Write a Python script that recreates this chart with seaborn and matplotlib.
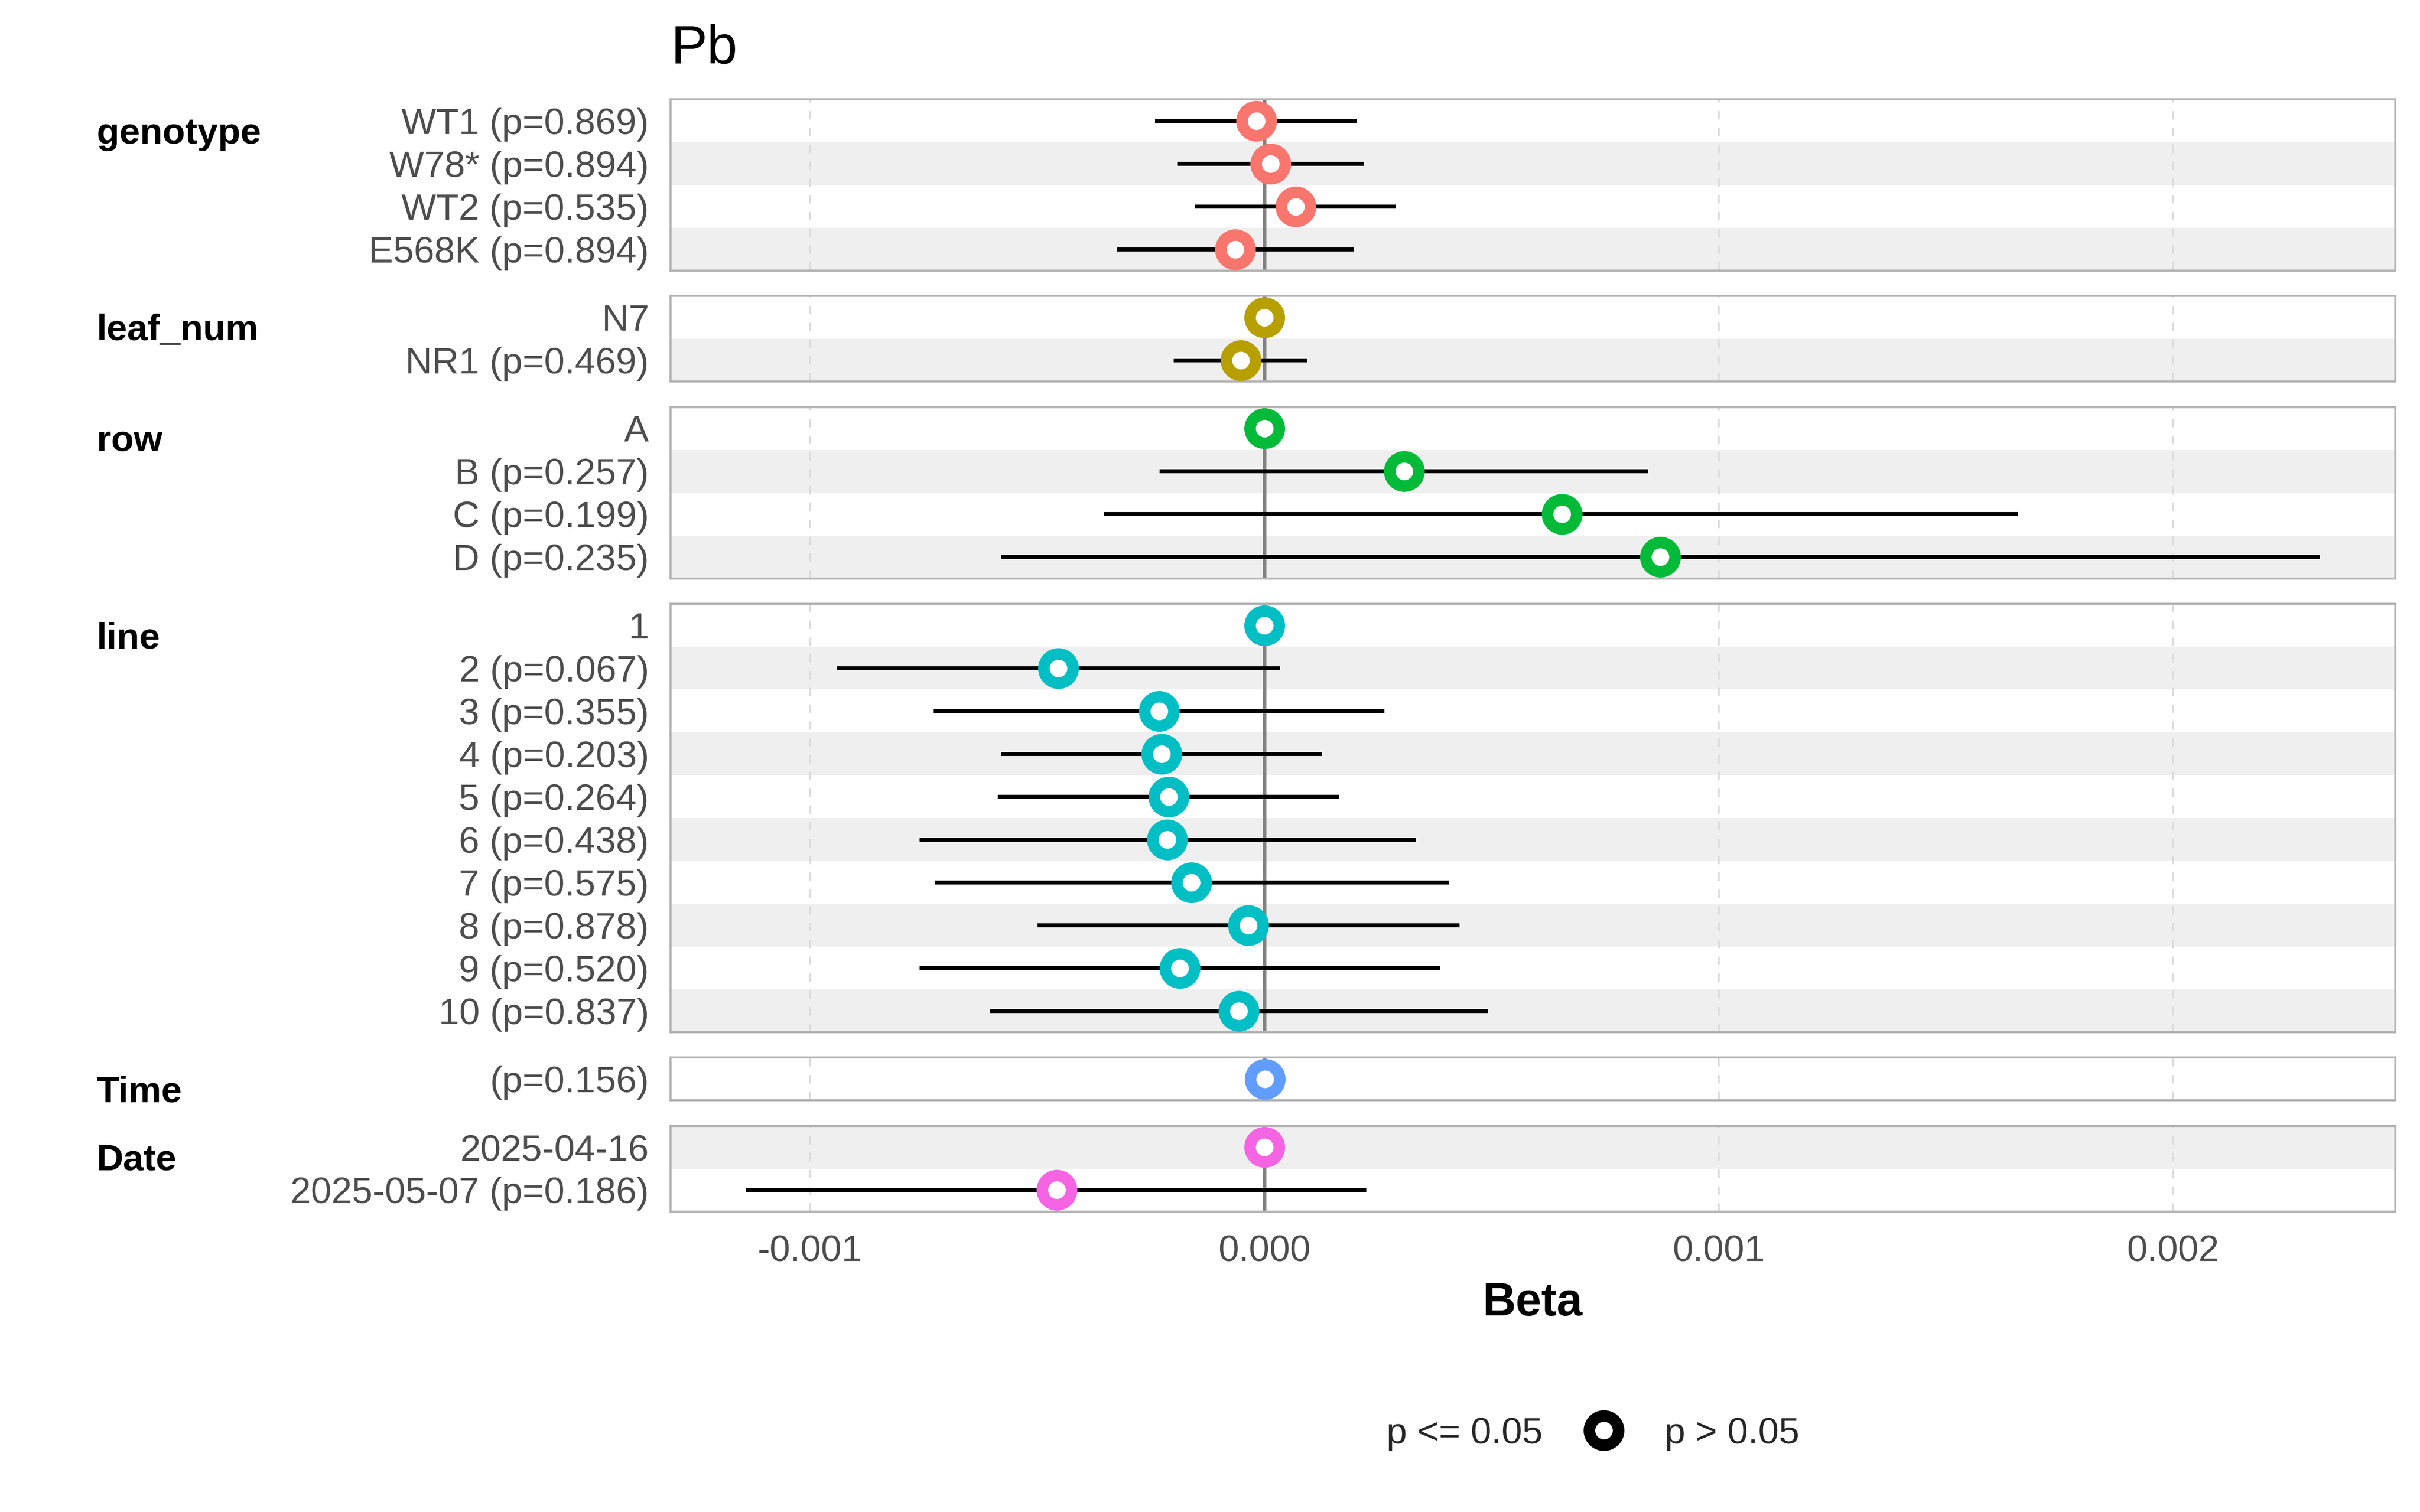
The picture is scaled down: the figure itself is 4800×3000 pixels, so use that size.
import numpy as np
import pandas as pd
import matplotlib
matplotlib.use("Agg")
import matplotlib.pyplot as plt
import seaborn as sns
from matplotlib.lines import Line2D

# ---------------- data ----------------
title = "Pb"
groups = ["genotype", "leaf_num", "row", "line", "Time", "Date"]
group_colors = ["#F8766D", "#B79F00", "#00BA38", "#00BFC4", "#619CFF", "#F564E3"]

genotype_labels = ["WT1 (p=0.869)", "W78* (p=0.894)", "WT2 (p=0.535)", "E568K (p=0.894)"]
genotype_beta = [-0.0000173, 0.0000139, 0.0000694, -0.0000639]
genotype_lo = [-0.000240, -0.000192, -0.000153, -0.000325]
genotype_hi = [0.000204, 0.000219, 0.000290, 0.000197]

leaf_labels = ["N7", "NR1 (p=0.469)"]
leaf_beta = [0.0, -0.0000515]
leaf_lo = [np.nan, -0.000199]
leaf_hi = [np.nan, 0.0000944]

row_labels = ["A", "B (p=0.257)", "C (p=0.199)", "D (p=0.235)"]
row_beta = [0.0, 0.000308, 0.000655, 0.000872]
row_lo = [np.nan, -0.000230, -0.000353, -0.000579]
row_hi = [np.nan, 0.000845, 0.001659, 0.002323]

line_labels = ["1", "2 (p=0.067)", "3 (p=0.355)", "4 (p=0.203)", "5 (p=0.264)",
               "6 (p=0.438)", "7 (p=0.575)", "8 (p=0.878)", "9 (p=0.520)", "10 (p=0.837)"]
line_beta = [0.0, -0.000454, -0.000232, -0.000226, -0.000211,
             -0.000214, -0.000160, -0.0000355, -0.000186, -0.0000566]
line_lo = [np.nan, -0.000941, -0.000728, -0.000579, -0.000587,
           -0.000759, -0.000726, -0.000499, -0.000759, -0.000605]
line_hi = [np.nan, 0.0000344, 0.000265, 0.000127, 0.000165,
           0.000333, 0.000407, 0.000430, 0.000387, 0.000492]

time_labels = ["(p=0.156)"]
time_beta = [0.000002]
time_lo = [-0.000001]
time_hi = [0.000005]

date_labels = ["2025-04-16", "2025-05-07 (p=0.186)"]
date_beta = [0.0, -0.000457]
date_lo = [np.nan, -0.001141]
date_hi = [np.nan, 0.000225]

x_ticks = [-0.001, 0.0, 0.001, 0.002]
x_tick_labels = ["-0.001", "0.000", "0.001", "0.002"]
x_label = "Beta"
legend_labels = ["p <= 0.05", "p > 0.05"]

# ---------------- table ----------------
blocks = [
    (genotype_labels, genotype_beta, genotype_lo, genotype_hi),
    (leaf_labels, leaf_beta, leaf_lo, leaf_hi),
    (row_labels, row_beta, row_lo, row_hi),
    (line_labels, line_beta, line_lo, line_hi),
    (time_labels, time_beta, time_lo, time_hi),
    (date_labels, date_beta, date_lo, date_hi),
]
frames = []
gidx = 0
for g, (lab, b, lo, hi) in zip(groups, blocks):
    n = len(lab)
    frames.append(pd.DataFrame({
        "group": g, "label": lab, "beta": b, "lo": lo, "hi": hi,
        "pos": np.arange(n), "gidx": np.arange(gidx, gidx + n)}))
    gidx += n
df = pd.concat(frames, ignore_index=True)

# ---------------- style ----------------
sns.set_theme(style="white")
plt.rcParams["font.family"] = ["Liberation Sans", "DejaVu Sans"]

fig = plt.figure(figsize=(16, 10), dpi=300)
sizes = [len(b[0]) for b in blocks]
gs = fig.add_gridspec(len(groups), 1, height_ratios=sizes,
                      left=0.2771, right=0.9898, top=0.9343, bottom=0.1987,
                      hspace=0.155)
xlim = (-0.001307, 0.00249)
MS = 13.9
MEW = 5.5
FS = 17.6

axes = []
for i, (g, col) in enumerate(zip(groups, group_colors)):
    ax = fig.add_subplot(gs[i, 0])
    axes.append(ax)
    sub = df[df["group"] == g]
    n = len(sub)
    for _, r in sub.iterrows():
        if r["gidx"] % 2 == 1:
            ax.axhspan(r["pos"] - 0.5, r["pos"] + 0.5, color="#EFEFEF", lw=0, zorder=0)
    for t in x_ticks:
        if t != 0:
            ax.axvline(t, color="#DCDCDC", lw=1.0, ls=(0, (4, 4)), zorder=1)
    ax.axvline(0, color="#808080", lw=1.6, zorder=2)
    ci = sub.dropna(subset=["lo", "hi"])
    if len(ci):
        ax.hlines(ci["pos"], ci["lo"], ci["hi"], color="black", lw=1.9, zorder=3)
    sns.scatterplot(data=sub, x="beta", y="pos", ax=ax, color=col, s=MS ** 2,
                    linewidth=MEW, edgecolor=col, zorder=4, legend=False)
    coll = ax.collections[-1]
    coll.set_facecolor("white")
    coll.set_edgecolor(col)
    ax.set_xlim(*xlim)
    ax.set_ylim(n - 0.5, -0.5)
    ax.set_yticks(sub["pos"].tolist())
    ax.set_yticklabels(sub["label"].tolist(), color="#4D4D4D", fontsize=FS)
    ax.set_xticks(x_ticks)
    ax.set_xlabel("")
    ax.set_ylabel("")
    ax.tick_params(axis="y", length=0, pad=10.3)
    ax.tick_params(axis="x", length=0, pad=11)
    if i < len(groups) - 1:
        ax.tick_params(axis="x", labelbottom=False)
    else:
        ax.set_xticklabels(x_tick_labels, color="#4D4D4D", fontsize=FS)
    for s in ax.spines.values():
        s.set_visible(True)
        s.set_color("#B3B3B3")
        s.set_linewidth(1.0)
    ax.grid(False)
    top = ax.get_position().y1
    fig.text(0.0399, top - 88 / 3000, g, fontsize=FS, fontweight="bold",
             color="black", ha="left", va="baseline")

axes[-1].set_xlabel(x_label, fontsize=22, fontweight="bold", labelpad=6.3, color="black")

fig.text(0.2771, 0.958, title, fontsize=26, color="black", ha="left", va="baseline")

h1 = Line2D([], [], marker="o", ls="", markersize=MS, markerfacecolor="white",
            markeredgecolor="black", markeredgewidth=MEW, alpha=0)
h2 = Line2D([], [], marker="o", ls="", markersize=MS, markerfacecolor="white",
            markeredgecolor="black", markeredgewidth=MEW)
fig.legend(handles=[h1, h2], labels=legend_labels, ncol=2, loc="center",
           bbox_to_anchor=(0.641, 0.0515), frameon=False, fontsize=FS,
           handlelength=1.2, handletextpad=1.05, columnspacing=1.05, borderpad=0)

fig.savefig("out.png", dpi=300, facecolor="white")
